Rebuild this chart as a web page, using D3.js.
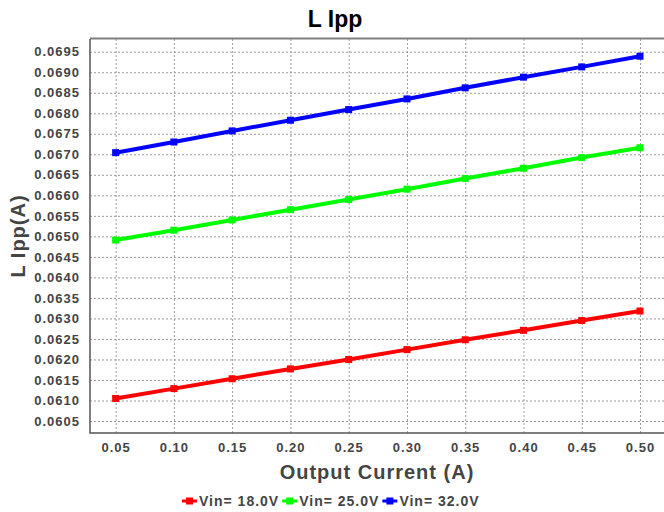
<!DOCTYPE html>
<html>
<head>
<meta charset="utf-8">
<script src="https://cdn.jsdelivr.net/npm/d3@7"></script>
<style>
    body { margin: 0; background: #fff; }
    text { font-family: "Liberation Sans", Arial, sans-serif; font-weight: bold; }
</style>
</head>
<body>
<div id="chart"></div>
<script>
const current = [0.05, 0.10, 0.15, 0.20, 0.25, 0.30, 0.35, 0.40, 0.45, 0.50];
const vin18 = [0.06105, 0.06129, 0.06153, 0.06177, 0.06200, 0.06224, 0.06248, 0.06271, 0.06295, 0.06318];
const vin25 = [0.06491, 0.06515, 0.06540, 0.06565, 0.06590, 0.06615, 0.06641, 0.06666, 0.06692, 0.06716];
const vin32 = [0.06704, 0.06730, 0.06757, 0.06783, 0.06809, 0.06835, 0.06862, 0.06888, 0.06913, 0.06939];
const seriesNames = ["Vin= 18.0V", "Vin= 25.0V", "Vin= 32.0V"];
const seriesColors = ["#ff0000", "#00ff00", "#0000ff"];
const yTicks = d3.range(0, 19).map(i => 0.0605 + i * 0.0005);

const width = 664;
const height = 512;
const margin = ({top: 39, right: 0, bottom: 79, left: 90});

const series = [vin18, vin25, vin32].map((v, i) => ({
    name: seriesNames[i],
    color: seriesColors[i],
    values: v.map((y, j) => ({x: current[j], y: y}))
}));

const x = d3.scaleLinear()
    .domain([0.028, 0.5206])
    .range([margin.left, width - margin.right]);

const y = d3.scaleLinear()
    .domain([0.060208, 0.06981])
    .range([height - margin.bottom, margin.top]);

const svg = d3.select("#chart").append("svg")
    .attr("width", width)
    .attr("height", height)
    .attr("viewBox", [0, 0, width, height]);

// grid
svg.append("g")
    .attr("transform", `translate(0,${height - margin.bottom})`)
    .call(d3.axisBottom(x).tickValues(current).tickSize(-(height - margin.top - margin.bottom)).tickFormat(""))
    .call(g => g.select(".domain").remove())
    .call(g => g.selectAll("line").attr("stroke", "#999").attr("stroke-dasharray", "2,2"));

svg.append("g")
    .attr("transform", `translate(${margin.left},0)`)
    .call(d3.axisLeft(y).tickValues(yTicks).tickSize(-(width - margin.left - margin.right)).tickFormat(""))
    .call(g => g.select(".domain").remove())
    .call(g => g.selectAll("line").attr("stroke", "#999").attr("stroke-dasharray", "2,2"));

// frame
svg.append("line")
    .attr("x1", margin.left).attr("x2", width)
    .attr("y1", margin.top - 0.5).attr("y2", margin.top - 0.5)
    .attr("stroke", "#808080").attr("stroke-width", 2);
svg.append("path")
    .attr("d", `M${margin.left},${margin.top}V${height - margin.bottom}H${width}`)
    .attr("fill", "none")
    .attr("stroke", "#555")
    .attr("stroke-width", 1.5);

// tick labels
svg.append("g")
    .attr("transform", `translate(0,${height - margin.bottom})`)
    .call(d3.axisBottom(x).tickValues(current).tickSize(0).tickPadding(10).tickFormat(d3.format(".2f")))
    .call(g => g.select(".domain").remove())
    .call(g => g.selectAll("text")
        .attr("font-size", 13)
        .attr("letter-spacing", 1)
        .attr("fill", "#444")
        .attr("font-family", null));

svg.append("g")
    .attr("transform", `translate(${margin.left},0)`)
    .call(d3.axisLeft(y).tickValues(yTicks).tickSize(0).tickPadding(10).tickFormat(d3.format(".4f")))
    .call(g => g.select(".domain").remove())
    .call(g => g.selectAll("text")
        .attr("font-size", 13)
        .attr("letter-spacing", 1)
        .attr("fill", "#444")
        .attr("font-family", null));

// lines
const line = d3.line()
    .x(d => x(d.x))
    .y(d => y(d.y));

const sg = svg.append("g")
    .selectAll("g")
    .data(series)
    .join("g");

sg.append("path")
    .attr("fill", "none")
    .attr("stroke", d => d.color)
    .attr("stroke-width", 4)
    .attr("d", d => line(d.values));

sg.selectAll("rect")
    .data(d => d.values.map(v => ({...v, color: d.color})))
    .join("rect")
    .attr("x", d => x(d.x) - 3.5)
    .attr("y", d => y(d.y) - 3.5)
    .attr("width", 7)
    .attr("height", 7)
    .attr("fill", d => d.color);

// title & axis labels
svg.append("text")
    .attr("x", 335)
    .attr("y", 27)
    .attr("text-anchor", "middle")
    .attr("font-size", 23)
    .attr("fill", "#000")
    .text("L Ipp");

svg.append("text")
    .attr("x", (margin.left + width) / 2)
    .attr("y", 479)
    .attr("text-anchor", "middle")
    .attr("font-size", 20)
    .attr("letter-spacing", 1)
    .attr("fill", "#444")
    .text("Output Current (A)");

svg.append("text")
    .attr("transform", `translate(25,${(margin.top + height - margin.bottom) / 2}) rotate(-90)`)
    .attr("text-anchor", "middle")
    .attr("font-size", 20)
    .attr("letter-spacing", 1)
    .attr("fill", "#444")
    .text("L Ipp(A)");

// legend
const legend = svg.append("g")
    .attr("transform", "translate(182,501)");

let lx = 0;
series.forEach(s => {
    const item = legend.append("g").attr("transform", `translate(${lx},0)`);
    item.append("line")
        .attr("x1", 0).attr("x2", 15)
        .attr("y1", 0).attr("y2", 0)
        .attr("stroke", s.color).attr("stroke-width", 3);
    item.append("rect")
        .attr("x", 4).attr("y", -3.5)
        .attr("width", 7).attr("height", 7)
        .attr("fill", s.color);
    const t = item.append("text")
        .attr("x", 17)
        .attr("y", 5)
        .attr("font-size", 14)
        .attr("letter-spacing", 1)
        .attr("fill", "#444")
        .text(s.name);
    lx += 17 + t.node().getComputedTextLength() + 3;
});
</script>
</body>
</html>
